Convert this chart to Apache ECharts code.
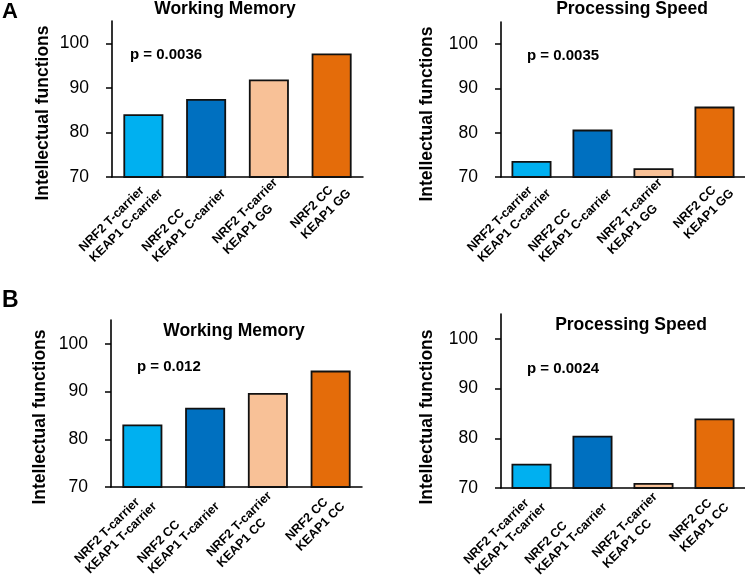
<!DOCTYPE html>
<html>
<head>
<meta charset="utf-8">
<script src="https://cdn.jsdelivr.net/npm/echarts@6/dist/echarts.min.js"></script>
<style>
html,body{margin:0;padding:0;background:#fff;}
#chart{width:745px;height:578px;}
</style>
</head>
<body>
<div id="chart"></div>
<script>
// Categories
const categoriesA = ['NRF2 T-carrier\nKEAP1 C-carrier', 'NRF2 CC\nKEAP1 C-carrier', 'NRF2 T-carrier\nKEAP1 GG', 'NRF2 CC\nKEAP1 GG'];
const categoriesB = ['NRF2 T-carrier\nKEAP1 T-carrier', 'NRF2 CC\nKEAP1 T-carrier', 'NRF2 T-carrier\nKEAP1 CC', 'NRF2 CC\nKEAP1 CC'];
// Values
const workingMemoryA = [84.1, 87.5, 91.9, 97.7];
const processingSpeedA = [73.6, 80.7, 72.0, 85.9];
const workingMemoryB = [83.1, 86.6, 89.7, 94.4];
const processingSpeedB = [74.9, 80.5, 71.0, 84.0];
// Tick labels
const yTicks = [70, 80, 90, 100];
// Texts
const panelTitles = ['Working Memory', 'Processing Speed', 'Working Memory', 'Processing Speed'];
const pValues = ['p = 0.0036', 'p = 0.0035', 'p = 0.012', 'p = 0.0024'];
const yName = 'Intellectual functions';
const barColors = ['#00B0F0', '#0070C0', '#F8C197', '#E46C0A'];

const FONT = '"Liberation Sans", Arial, sans-serif';

const grids = [
  {left: 112, top: 21, width: 251, height: 156, outerBoundsMode: 'none', containLabel: false},
  {left: 501, top: 22, width: 244, height: 155, outerBoundsMode: 'none', containLabel: false},
  {left: 111, top: 320, width: 251, height: 167, outerBoundsMode: 'none', containLabel: false},
  {left: 501, top: 314, width: 244, height: 174, outerBoundsMode: 'none', containLabel: false}
];
const cats = [categoriesA, categoriesA, categoriesB, categoriesB];
const vals = [workingMemoryA, processingSpeedA, workingMemoryB, processingSpeedB];
const labelShift = [[-3, 34], [-3, 34], [5, 20], [5, 20]];

const xAxes = grids.map((g, i) => ({
  type: 'category', gridIndex: i, data: cats[i],
  axisLine: {lineStyle: {color: '#000', width: 1.5}},
  axisTick: {show: false},
  axisLabel: {
    interval: 0, rotate: 45, margin: labelShift[i][0],
    verticalAlign: 'middle', padding: [labelShift[i][1], 0, 0, 0],
    formatter: v => v.split('\n').map(s => '{a|' + s + '}').join('\n'),
    rich: {a: {align: 'left', fontFamily: FONT, fontWeight: 'bold', fontSize: 12.5, color: '#000', lineHeight: 15}}
  }
}));
const yAxes = grids.map((g, i) => ({
  type: 'value', gridIndex: i, min: 70, max: 105, interval: 10,
  splitLine: {show: false},
  axisLine: {show: true, lineStyle: {color: '#000', width: 1.6}},
  axisTick: {show: true, length: 6, customValues: yTicks, lineStyle: {color: '#000', width: 1.5}},
  axisLabel: {customValues: yTicks, fontFamily: FONT, fontSize: 17.5, color: '#000', margin: 23}
}));
const series = grids.map((g, i) => ({
  type: 'bar', xAxisIndex: i, yAxisIndex: i, barWidth: 40,
  data: vals[i].map((v, j) => ({value: v, itemStyle: {color: barColors[j]}})),
  itemStyle: {borderColor: '#111', borderWidth: 1.8},
  silent: true
}));

const titlePos = [[225, 9], [632, 9], [234, 331], [631, 325]];
const pPos = [[130, 55], [527, 56], [137, 367], [527, 369]];
const yNamePos = [[43, 113], [427, 114], [40, 417], [427, 417]];
const graphics = [];
titlePos.forEach((p, i) => graphics.push({type: 'text', x: p[0], y: p[1], style: {text: panelTitles[i], font: 'bold 17.5px ' + FONT, fill: '#000', align: 'center', verticalAlign: 'middle'}}));
pPos.forEach((p, i) => graphics.push({type: 'text', x: p[0], y: p[1], style: {text: pValues[i], font: 'bold 15px ' + FONT, fill: '#000', align: 'left', verticalAlign: 'middle'}}));
yNamePos.forEach((p, i) => graphics.push({type: 'text', x: p[0], y: p[1], rotation: Math.PI / 2, style: {text: yName, font: 'bold 17.5px ' + FONT, fill: '#000', align: 'center', verticalAlign: 'middle'}}));
graphics.push({type: 'text', x: 2, y: 12, style: {text: 'A', font: 'bold 22px ' + FONT, fill: '#000', align: 'left', verticalAlign: 'middle'}});
graphics.push({type: 'text', x: 2, y: 301, style: {text: 'B', font: 'bold 23px ' + FONT, fill: '#000', align: 'left', verticalAlign: 'middle'}});

const chart = echarts.init(document.getElementById('chart'), null, {renderer: 'canvas'});
chart.setOption({
  animation: false,
  backgroundColor: '#fff',
  grid: grids,
  xAxis: xAxes,
  yAxis: yAxes,
  series: series,
  graphic: graphics
});
</script>
</body>
</html>
